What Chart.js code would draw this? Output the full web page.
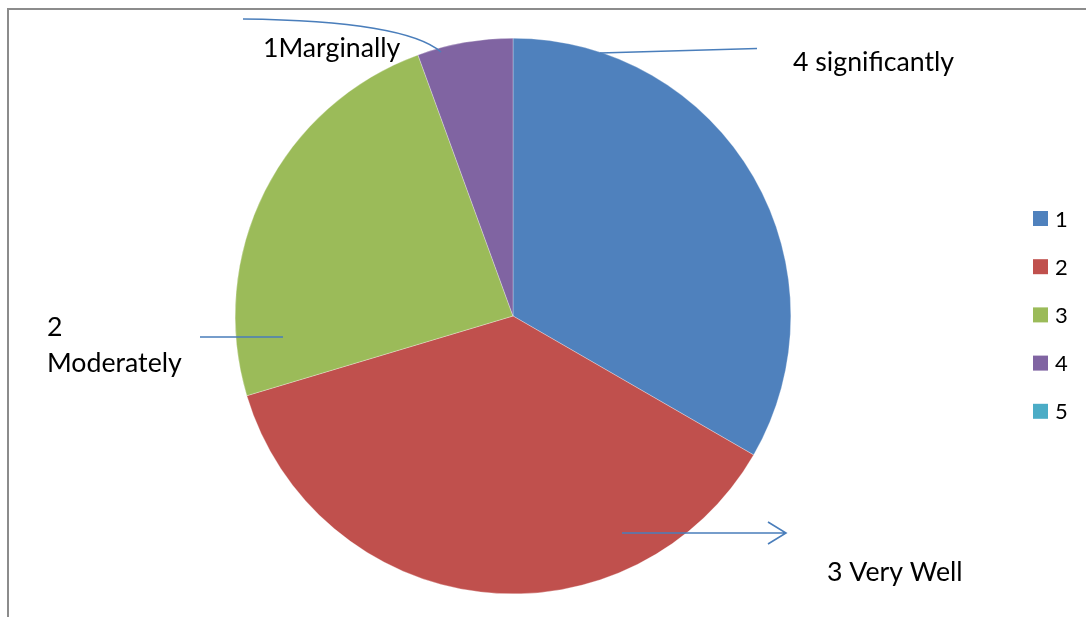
<!DOCTYPE html>
<html lang="en">
<head>
    <meta charset="UTF-8">
    <title>Pie chart</title>
    <script src="https://cdn.jsdelivr.net/npm/chart.js"></script>
    <style>
        html, body { margin: 0; padding: 0; background: #fff; overflow: hidden; }
        #wrap { position: relative; width: 1086px; height: 617px; }
    </style>
</head>
<body>
    <div id="wrap">
        <canvas id="pieChart" width="1086" height="617"></canvas>
    </div>

    <script>
        // categories and values
        const categories = ['1', '2', '3', '4', '5'];
        const counts = [18, 20, 13, 3, 0];
        const sliceColors = ['#4F81BD', '#C0504D', '#9BBB59', '#8064A2', '#4BACC6'];

        // callout texts
        const callouts = [
            { lines: ['1Marginally'], x: 263, y: 57 },
            { lines: ['4 significantly'], x: 793, y: 71 },
            { lines: ['2', 'Moderately'], x: 47, y: 336, gap: 36 },
            { lines: ['3 Very Well'], x: 827, y: 581 }
        ];

        const FONT = 'Lato, "Open Sans", sans-serif';
        const lineColor = '#4A7EBB';

        // frame, callouts and legend
        const decorPlugin = {
            id: 'decor',
            beforeDraw(chart) {
                const c = chart.ctx;
                c.save();
                c.fillStyle = '#fff';
                c.fillRect(0, 0, chart.width, chart.height);
                c.strokeStyle = '#8C8C8C';
                c.lineWidth = 2;
                c.beginPath();
                c.moveTo(8, chart.height + 5);
                c.lineTo(8, 9);
                c.lineTo(chart.width + 5, 9);
                c.stroke();
                c.restore();
            },
            afterDraw(chart) {
                const c = chart.ctx;
                c.save();

                // leader lines
                c.strokeStyle = lineColor;
                c.lineWidth = 1.6;
                c.beginPath();
                c.moveTo(243, 19);
                c.quadraticCurveTo(405, 21, 441, 52);
                c.moveTo(600, 53);
                c.lineTo(757, 48.5);
                c.moveTo(200, 337);
                c.lineTo(283, 337);
                c.moveTo(622, 533);
                c.lineTo(785, 533);
                c.moveTo(768, 522);
                c.lineTo(786, 533);
                c.lineTo(768, 544);
                c.stroke();

                // callout text
                c.fillStyle = '#000';
                c.font = '26.7px ' + FONT;
                c.textBaseline = 'alphabetic';
                c.textAlign = 'left';
                callouts.forEach(function(t) {
                    t.lines.forEach(function(s, i) {
                        c.fillText(s, t.x, t.y + i * (t.gap || 0));
                    });
                });

                // legend
                const labels = chart.data.labels;
                const colors = chart.data.datasets[0].backgroundColor;
                c.font = '22px ' + FONT;
                labels.forEach(function(lbl, i) {
                    const top = 211 + i * 48.2;
                    c.fillStyle = colors[i];
                    c.fillRect(1033, top, 15, 15);
                    c.fillStyle = '#000';
                    c.fillText(lbl, 1055, top + 15.5);
                });
                c.restore();
            }
        };

        const ctx = document.getElementById('pieChart').getContext('2d');
        const chart = new Chart(ctx, {
            type: 'pie',
            data: {
                labels: categories,
                datasets: [{
                    data: counts,
                    backgroundColor: sliceColors,
                    borderColor: '#fff',
                    borderWidth: 0.3
                }]
            },
            options: {
                responsive: false,
                animation: false,
                layout: {
                    padding: { left: 235, right: 295, top: 38, bottom: 23 }
                },
                plugins: {
                    legend: { display: false },
                    tooltip: { enabled: false }
                }
            },
            plugins: [decorPlugin]
        });
    </script>
</body>
</html>
